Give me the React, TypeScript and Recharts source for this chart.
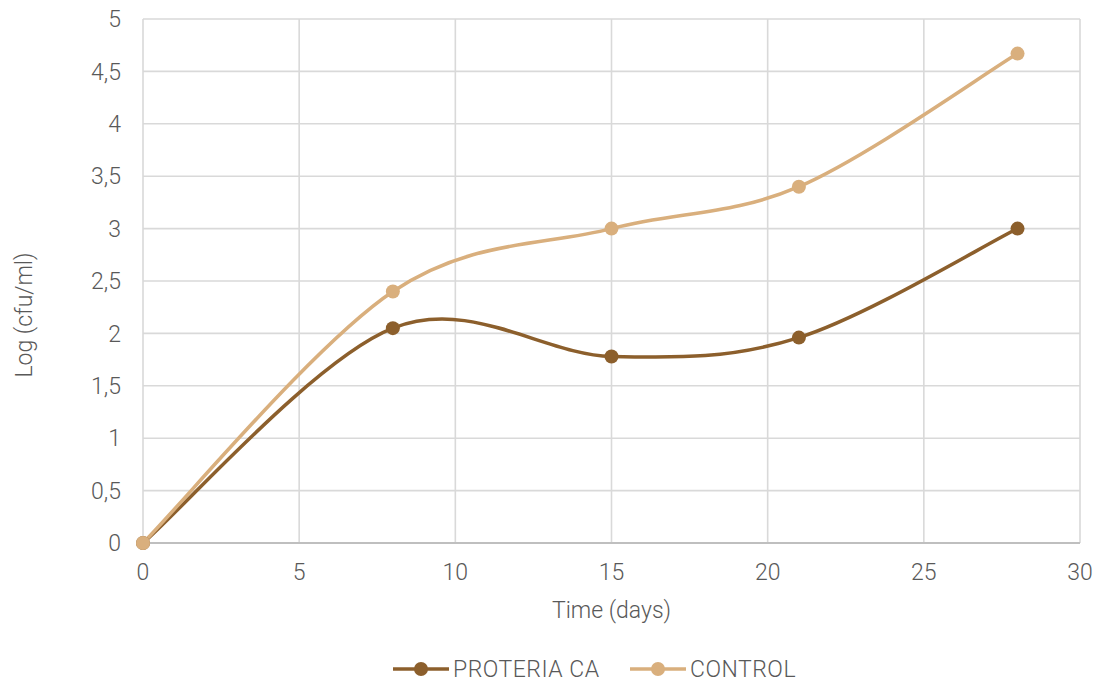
import {
  CartesianGrid,
  Legend,
  Line,
  LineChart,
  XAxis,
  YAxis,
} from "recharts";

const days = [0, 8, 15, 21, 28];
const proteria = [0, 2.05, 1.78, 1.96, 3.0];
const control = [0, 2.4, 3.0, 3.4, 4.67];

const xTicks = [0, 5, 10, 15, 20, 25, 30];
const yTicks = [0, 0.5, 1, 1.5, 2, 2.5, 3, 3.5, 4, 4.5, 5];

const SERIES = [
  { key: "proteria", name: "PROTERIA CA", color: "#8C5F2C", width: 237 },
  { key: "control", name: "CONTROL", color: "#D9AF7D", width: 180 },
];

const TEXT = "#595959";
const FONT = "Roboto, 'DejaVu Sans', sans-serif";
const FS = 23;

// lissage façon Excel (bezier type catmull-rom, tension /6)
const excelCurve = (ctx: any) => {
  let pts: [number, number][] = [];
  return {
    areaStart() {},
    areaEnd() {},
    lineStart() {
      pts = [];
    },
    point(x: number, y: number) {
      pts.push([+x, +y]);
    },
    lineEnd() {
      if (!pts.length) return;
      ctx.moveTo(pts[0][0], pts[0][1]);
      for (let i = 0; i < pts.length - 1; i++) {
        const p0 = pts[Math.max(i - 1, 0)];
        const p1 = pts[i];
        const p2 = pts[i + 1];
        const p3 = pts[Math.min(i + 2, pts.length - 1)];
        ctx.bezierCurveTo(
          p1[0] + (p2[0] - p0[0]) / 6,
          p1[1] + (p2[1] - p0[1]) / 6,
          p2[0] - (p3[0] - p1[0]) / 6,
          p2[1] - (p3[1] - p1[1]) / 6,
          p2[0],
          p2[1]
        );
      }
    },
  };
};

const data = days.map((d, i) => ({
  day: d,
  proteria: proteria[i],
  control: control[i],
}));

const fmt = (v: number) => String(v).replace(".", ",");

const LegendContent = () => (
  <div
    style={{
      height: 30,
      display: "flex",
      alignItems: "center",
      paddingLeft: 393,
      fontFamily: FONT,
      fontWeight: 300,
      fontSize: FS,
      letterSpacing: 0.5,
      color: TEXT,
    }}
  >
    {SERIES.map((s) => (
      <div key={s.key} style={{ display: "flex", alignItems: "center", width: s.width }}>
        <svg width={56} height={16} style={{ marginRight: 4 }}>
          <line x1={0} y1={8} x2={56} y2={8} stroke={s.color} strokeWidth={3.5} />
          <circle cx={28} cy={8} r={7} fill={s.color} />
        </svg>
        <span>{s.name}</span>
      </div>
    ))}
  </div>
);

const YLabel = ({ viewBox }: any) => {
  const cx = 24;
  const cy = viewBox.y + viewBox.height / 2 + 34;
  return (
    <text
      x={cx}
      y={cy}
      transform={`rotate(-90, ${cx}, ${cy})`}
      textAnchor="middle"
      dominantBaseline="central"
      fill={TEXT}
      fontFamily={FONT}
      fontWeight={300}
      fontSize={FS}
    >
      Log (cfu/ml)
    </text>
  );
};

export default function App() {
  const tickStyle = {
    fill: TEXT,
    fontFamily: FONT,
    fontWeight: 300,
    fontSize: FS,
  };
  return (
    <div style={{ position: "absolute", left: 0, top: 0, width: 1094, height: 684, background: "#fff" }}>
      <LineChart
        width={1094}
        height={684}
        data={data}
        margin={{ top: 19, right: 14, bottom: 0, left: 0 }}
      >
        <CartesianGrid stroke="#D9D9D9" strokeWidth={1.6} />
        <XAxis
          dataKey="day"
          type="number"
          domain={[0, 30]}
          ticks={xTicks}
          height={111}
          tickLine={false}
          tickSize={0}
          tickMargin={21}
          axisLine={{ stroke: "#BFBFBF", strokeWidth: 2 }}
          tick={tickStyle}
          label={{
            value: "Time (days)",
            position: "insideBottom",
            offset: 36,
            fill: TEXT,
            fontFamily: FONT,
            fontWeight: 300,
            fontSize: FS,
          }}
        />
        <YAxis
          type="number"
          domain={[0, 5]}
          ticks={yTicks}
          width={143}
          tickLine={false}
          axisLine={false}
          tickSize={0}
          tickMargin={22}
          tick={tickStyle}
          tickFormatter={fmt}
          label={<YLabel />}
        />
        <Legend verticalAlign="bottom" content={() => <LegendContent />} />
        {SERIES.map((s) => (
          <Line
            key={s.key}
            dataKey={s.key}
            name={s.name}
            type={excelCurve as any}
            stroke={s.color}
            strokeWidth={3.5}
            dot={{ r: 7, fill: s.color, stroke: "none" }}
            activeDot={false}
            isAnimationActive={false}
          />
        ))}
      </LineChart>
    </div>
  );
}
